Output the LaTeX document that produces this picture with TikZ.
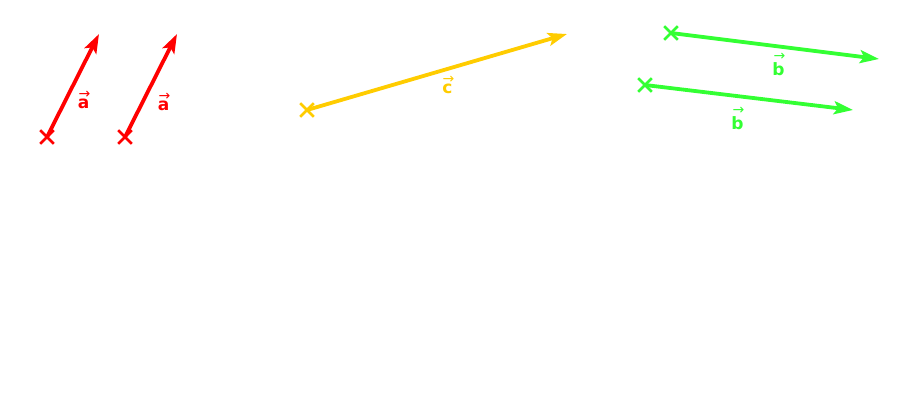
\documentclass[tikz,border=0pt]{standalone}
\usepackage{fontspec}
\setmainfont{DejaVu Sans}
\usetikzlibrary{arrows.meta,shapes.misc}
\definecolor{vred}{RGB}{255,0,0}
\definecolor{vyellow}{RGB}{255,204,0}
\definecolor{vgreen}{RGB}{51,255,51}
\tikzset{
  vecline/.style={line width=3.8pt,-{Stealth[length=19pt,width=13pt,inset=4pt]}},
  startmark/.style={cross out,draw=#1,line width=2.6pt,minimum size=11pt,inner sep=0pt},
  veclabel/.style={text=#1,font=\bfseries\fontsize{17}{19}\selectfont,inner sep=0pt},
  labarrow/.style={text=#1,font=\fontsize{14}{15}\selectfont,inner sep=0pt}
}
\begin{document}
\begin{tikzpicture}[x=1pt,y=-1pt]
\useasboundingbox (0,0) rectangle (907,412);
% red vectors
\node[startmark=vred] (a1s) at (47,137) {};
\coordinate (a1e) at (99,34);
\draw[vecline,vred] (a1s.center) -- (a1e);
\node[veclabel=vred] (a1l) at (83.5,103.5) {a};
\node[labarrow=vred] (a1v) at (84.5,94.5) {→};
\node[startmark=vred] (a2s) at (125,137) {};
\coordinate (a2e) at (177,34);
\draw[vecline,vred] (a2s.center) -- (a2e);
\node[veclabel=vred] (a2l) at (163.5,105.5) {a};
\node[labarrow=vred] (a2v) at (164.5,96.5) {→};
% yellow vector
\node[startmark=vyellow] (cs) at (307,110) {};
\coordinate (ce) at (567,34);
\draw[vecline,vyellow] (cs.center) -- (ce);
\node[veclabel=vyellow] (cl) at (447.5,89) {c};
\node[labarrow=vyellow] (cv) at (448.5,79.5) {→};
% green vectors
\node[startmark=vgreen] (b1s) at (671,33) {};
\coordinate (b1e) at (879,59);
\draw[vecline,vgreen] (b1s.center) -- (b1e);
\node[veclabel=vgreen] (b1l) at (778.5,69) {b};
\node[labarrow=vgreen] (b1v) at (779.5,57) {→};
\node[startmark=vgreen] (b2s) at (645,85) {};
\coordinate (b2e) at (853,110);
\draw[vecline,vgreen] (b2s.center) -- (b2e);
\node[veclabel=vgreen] (b2l) at (737.5,123.5) {b};
\node[labarrow=vgreen] (b2v) at (738.5,111) {→};
\end{tikzpicture}
\end{document}
